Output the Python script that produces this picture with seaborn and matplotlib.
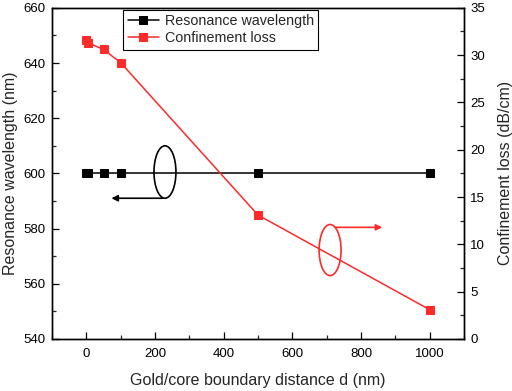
import matplotlib
matplotlib.use("Agg")
import matplotlib.pyplot as plt
import seaborn as sns
import pandas as pd
from matplotlib.patches import Ellipse
from matplotlib.ticker import MultipleLocator

d = [0, 5, 50, 100, 500, 1000]
res_wl = [600, 600, 600, 600, 600, 600]
conf_loss = [31.6, 31.3, 30.6, 29.2, 13.1, 3.1]

df = pd.DataFrame({"d": d, "res": res_wl, "loss": conf_loss})

sns.set_style("ticks")
plt.rcParams["font.family"] = ["Liberation Sans", "DejaVu Sans"]

fig = plt.figure(figsize=(5.12, 3.91), dpi=100)
ax = fig.add_axes([0.1016, 0.133, 0.8046, 0.847])
ax2 = ax.twinx()

red = "#ff2a2a"
sns.lineplot(data=df, x="d", y="res", ax=ax, color="black", marker="s",
             markersize=5.5, markeredgecolor="black", linewidth=1.1,
             label="Resonance wavelength", legend=False)
sns.lineplot(data=df, x="d", y="loss", ax=ax2, color=red, marker="s",
             markersize=5.5, markeredgecolor=red, linewidth=1.1,
             label="Confinement loss", legend=False)

ax.set_xlim(-100, 1100)
ax.set_ylim(540, 660)
ax2.set_ylim(0, 35)
ax.xaxis.set_major_locator(MultipleLocator(200))
ax.xaxis.set_minor_locator(MultipleLocator(100))
ax.yaxis.set_major_locator(MultipleLocator(20))
ax.yaxis.set_minor_locator(MultipleLocator(10))
ax2.yaxis.set_major_locator(MultipleLocator(5))
ax2.yaxis.set_minor_locator(MultipleLocator(2.5))

for a in (ax, ax2):
    a.tick_params(which="major", direction="in", length=5, width=0.9, labelsize=9.5,
                  colors="black", pad=4.5)
    a.tick_params(which="minor", direction="in", length=3, width=0.9)
    for s in a.spines.values():
        s.set_linewidth(1.0)
        s.set_color("black")
ax.tick_params(axis="x", which="major", pad=6.5)
ax.tick_params(axis="y", which="both", right=False)
ax2.tick_params(axis="y", which="both", left=False)

ax.set_xlabel("Gold/core boundary distance d (nm)", fontsize=11.5, labelpad=9)
ax.set_ylabel("Resonance wavelength (nm)", fontsize=11.5, labelpad=4)
ax2.set_ylabel("Confinement loss (dB/cm)", fontsize=11.5, labelpad=9)

# annotations
ax.add_patch(Ellipse((229, 600.5), 64, 19, fill=False, edgecolor="black", linewidth=1.2))
ax.annotate("", xy=(65, 591), xytext=(229, 591),
            arrowprops=dict(arrowstyle="-|>", color="black", lw=1.2, mutation_scale=9))
ax2.add_patch(Ellipse((710, 9.4), 64, 5.4, fill=False, edgecolor=red, linewidth=1.2))
ax2.annotate("", xy=(870, 11.8), xytext=(718, 11.8),
             arrowprops=dict(arrowstyle="-|>", color=red, lw=1.2, mutation_scale=9))

h1, l1 = ax.get_legend_handles_labels()
h2, l2 = ax2.get_legend_handles_labels()
leg = ax2.legend(h1 + h2, l1 + l2, loc="upper left", bbox_to_anchor=(0.173, 0.993),
                 fontsize=10.3, frameon=True, fancybox=False, edgecolor="black",
                 framealpha=1, borderpad=0.3, handlelength=2.2, handletextpad=0.4,
                 labelspacing=0.2, borderaxespad=0)
leg.get_frame().set_linewidth(0.8)

fig.savefig("out.png", dpi=100)
